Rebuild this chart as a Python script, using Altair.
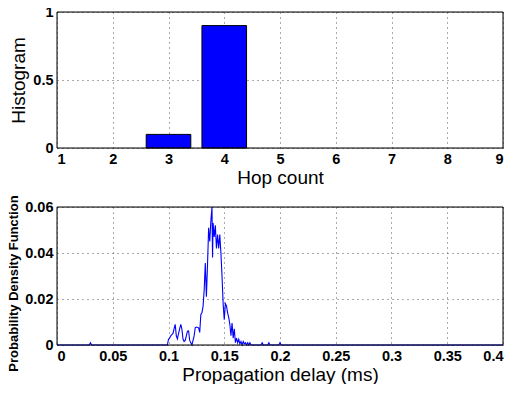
import altair as alt
import pandas as pd

# ---- Top panel: hop-count histogram ----
hops = [3, 4]
hist = [0.1, 0.9]

# ---- Bottom panel: propagation delay PDF ----
delay = [0.000, 0.029, 0.030, 0.031, 0.099,
         0.100, 0.101, 0.102, 0.103, 0.104, 0.105, 0.106, 0.107, 0.108, 0.109,
         0.110, 0.111, 0.112, 0.113, 0.114, 0.115, 0.116, 0.117, 0.118, 0.119,
         0.120, 0.121, 0.122, 0.123, 0.124, 0.125, 0.126, 0.127, 0.128, 0.129,
         0.130, 0.131, 0.132, 0.133, 0.134, 0.135, 0.136, 0.137, 0.138, 0.139,
         0.1395, 0.140, 0.141, 0.142, 0.143, 0.144, 0.145, 0.146, 0.147, 0.148,
         0.149, 0.150, 0.151, 0.152, 0.153, 0.154, 0.155, 0.156, 0.157, 0.158,
         0.159, 0.160, 0.161, 0.162, 0.163, 0.164, 0.165, 0.166, 0.167, 0.168,
         0.169, 0.170, 0.171, 0.172, 0.173, 0.174, 0.183, 0.184, 0.185, 0.189,
         0.190, 0.191, 0.199, 0.200, 0.201, 0.400]
pdf = [0.0, 0.0, 0.001, 0.0, 0.0,
       0.0025, 0.003, 0.004, 0.0045, 0.005, 0.007, 0.009, 0.004, 0.0026, 0.005,
       0.007, 0.009, 0.007, 0.0026, 0.0015, 0.002, 0.004, 0.006, 0.0061, 0.002,
       0.001, 0.0, 0.002, 0.004, 0.0076, 0.0078, 0.0076, 0.0075, 0.0055, 0.0133,
       0.014, 0.0168, 0.0238, 0.0356, 0.021, 0.035, 0.051, 0.045, 0.054, 0.060,
       0.038, 0.053, 0.047, 0.052, 0.042, 0.048, 0.042, 0.048, 0.040, 0.030,
       0.018, 0.011, 0.018, 0.017, 0.014, 0.012, 0.009, 0.004, 0.0095, 0.003,
       0.007, 0.001, 0.003, 0.001, 0.0025, 0.0005, 0.0015, 0.0, 0.0015, 0.0005,
       0.001, 0.0, 0.001, 0.0, 0.001, 0.0, 0.0, 0.001, 0.0, 0.0,
       0.001, 0.0, 0.0, 0.001, 0.0, 0.0]

hist_df = pd.DataFrame({"hop": hops, "h": hist})
hist_df["x1"] = hist_df["hop"] - 0.4
hist_df["x2"] = hist_df["hop"] + 0.4
pdf_df = pd.DataFrame({"delay": delay, "pdf": pdf})

W = 446
H_TOP = 136
H_BOT = 138
FONT = "Liberation Sans"
grid_kw = dict(grid=True, gridColor="#444444", gridDash=[1, 4], gridWidth=1, gridOpacity=0.9,
               ticks=False, domain=False, labelFont=FONT, labelFontWeight="bold",
               labelFontSize=14.5, labelColor="black", titleFont=FONT, titleColor="black",
               titleFontWeight="normal", titleFontSize=19)


def frame(h):
    return alt.Chart().mark_rect(fill=None, stroke="black", strokeWidth=1).encode(
        x=alt.value(0), x2=alt.value(W), y=alt.value(0), y2=alt.value(h))


bars = alt.Chart(hist_df).mark_bar(color="#0000FF", stroke="black", strokeWidth=1).encode(
    x=alt.X("x1:Q", scale=alt.Scale(domain=[1, 9], nice=False),
            axis=alt.Axis(values=[1, 2, 3, 4, 5, 6, 7, 8, 9], format="~g", title="Hop count",
                          labelPadding=4, titlePadding=3, **grid_kw)),
    x2="x2:Q",
    y=alt.Y("h:Q", scale=alt.Scale(domain=[0, 1], nice=False),
            axis=alt.Axis(values=[0, 0.5, 1], format="~g", title="Histogram",
                          labelPadding=4, titlePadding=4, **grid_kw)),
    y2=alt.datum(0),
)
top = alt.layer(bars, frame(H_TOP)).properties(width=W, height=H_TOP)

line = alt.Chart(pdf_df).mark_line(color="#0000FF", strokeWidth=1.1).encode(
    x=alt.X("delay:Q", scale=alt.Scale(domain=[0, 0.4], nice=False),
            axis=alt.Axis(values=[0, 0.05, 0.1, 0.15, 0.2, 0.25, 0.3, 0.35, 0.4], format="~g",
                          title="Propagation delay (ms)", labelPadding=4, titlePadding=3, **grid_kw)),
    y=alt.Y("pdf:Q", scale=alt.Scale(domain=[0, 0.06], nice=False),
            axis=alt.Axis(values=[0, 0.02, 0.04, 0.06], format="~g",
                          title="Probability Density Function", labelPadding=4, titlePadding=4,
                          titleY=76,
                          **{**grid_kw, "titleFontSize": 13, "titleFontWeight": "bold"})),
)
bottom = alt.layer(line, frame(H_BOT)).properties(width=W, height=H_BOT)

chart = alt.vconcat(top, bottom, spacing=6).properties(
    padding={"left": -1, "top": -5, "right": 2, "bottom": -1}
).configure_view(strokeWidth=0).configure(background="white")

chart.save("out.html", embed_options={"renderer": "svg", "actions": False})
